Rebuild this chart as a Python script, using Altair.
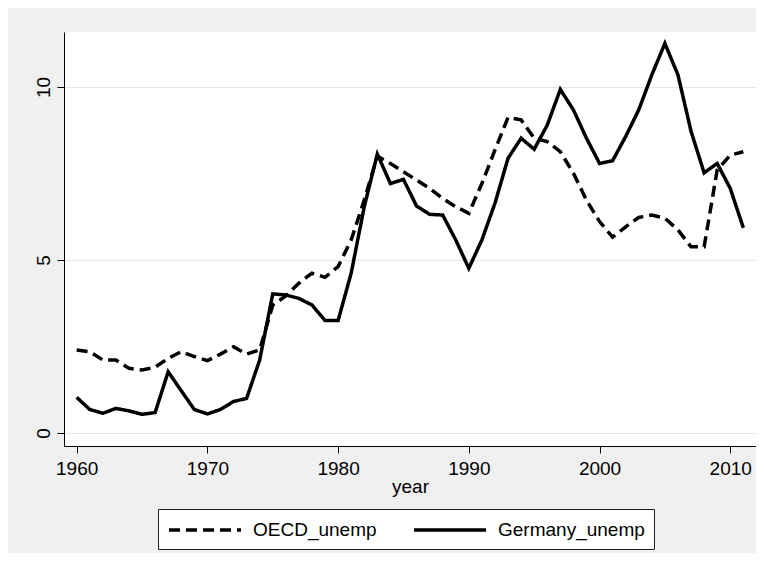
import altair as alt
import pandas as pd

years = list(range(1960, 2012))
oecd_unemp = [2.40, 2.35, 2.11, 2.11, 1.87, 1.82, 1.90, 2.16, 2.35, 2.21,
              2.09, 2.28, 2.49, 2.28, 2.40, 3.70, 3.96, 4.33, 4.62, 4.50,
              4.81, 5.58, 6.73, 8.00, 7.79, 7.55, 7.31, 7.07, 6.78, 6.54,
              6.35, 7.21, 8.18, 9.12, 9.05, 8.52, 8.42, 8.13, 7.51, 6.73,
              6.11, 5.66, 5.96, 6.23, 6.30, 6.21, 5.87, 5.38, 5.38, 7.60,
              8.03, 8.13]
germany_unemp = [1.03, 0.68, 0.57, 0.71, 0.64, 0.54, 0.59, 1.77, 1.22, 0.68,
                 0.55, 0.68, 0.91, 1.00, 2.11, 4.02, 3.99, 3.89, 3.70, 3.25,
                 3.25, 4.62, 6.54, 8.06, 7.21, 7.33, 6.56, 6.32, 6.30, 5.58,
                 4.76, 5.58, 6.64, 7.94, 8.52, 8.20, 8.90, 9.93, 9.34, 8.52,
                 7.79, 7.87, 8.57, 9.34, 10.35, 11.26, 10.35, 8.72, 7.52, 7.79,
                 7.07, 5.93]
series_names = ["OECD_unemp", "Germany_unemp"]
x_ticks = [1960, 1970, 1980, 1990, 2000, 2010]
y_ticks = [0, 5, 10]

df = pd.DataFrame({"year": years, "OECD_unemp": oecd_unemp, "Germany_unemp": germany_unemp})
long = df.melt("year", var_name="series", value_name="value")

FONT = "Liberation Sans"

chart = alt.Chart(long).mark_line(color="black", strokeWidth=3.5, strokeCap="butt").encode(
    x=alt.X("year:Q",
            scale=alt.Scale(domain=[1959.03, 2011.97], nice=False, zero=False),
            axis=alt.Axis(values=x_ticks, format="d", title="year", grid=False,
                          tickSize=7, labelPadding=6, titleY=46.5,
                          titleBaseline="alphabetic")),
    y=alt.Y("value:Q",
            scale=alt.Scale(domain=[-0.376, 11.59], nice=False, zero=False),
            axis=alt.Axis(values=y_ticks, title=None, grid=True, tickSize=7,
                          labelAngle=270, labelAlign="center",
                          labelBaseline="alphabetic", labelPadding=8)),
    strokeDash=alt.StrokeDash("series:N",
                              scale=alt.Scale(domain=series_names, range=[[11, 6], [1, 0]]),
                              legend=alt.Legend(title=None, orient="none", legendX=94, legendY=477,
                                                direction="horizontal", columns=2,
                                                symbolType="M-1,0L6.2,0", symbolSize=400,
                                                symbolStrokeWidth=3.5, symbolStrokeColor="black",
                                                symbolFillColor="transparent",
                                                labelFontSize=19, labelFont=FONT, labelColor="black",
                                                labelOffset=62, columnPadding=7, padding=9,
                                                gridAlign="all", fillColor="white",
                                                strokeColor="#222222", labelLimit=400)),
    detail="series:N",
).properties(
    width=692, height=414,
    autosize=alt.AutoSizeParams(type="none"),
    padding={"left": 56, "top": 24, "right": 0, "bottom": 107},
    background="#f0f0f0",
).configure_view(
    fill="white", strokeWidth=0
).configure_axis(
    labelFont=FONT, titleFont=FONT, labelFontSize=19, titleFontSize=19,
    titleFontWeight="normal", labelColor="black", titleColor="black",
    domainColor="black", domainWidth=1, tickColor="black", tickWidth=1,
    gridColor="#e6e6e6", gridWidth=1,
)

chart.save("out.html", embed_options={"renderer": "svg", "actions": False})
